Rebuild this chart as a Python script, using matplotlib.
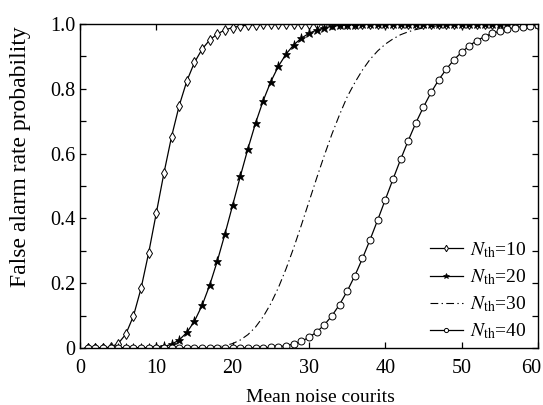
import matplotlib
matplotlib.use('Agg')
import matplotlib.pyplot as plt
from matplotlib.ticker import MultipleLocator, FuncFormatter
from matplotlib.transforms import ScaledTranslation
import numpy as np

plt.rcParams['font.family'] = ['Liberation Serif', 'DejaVu Serif']
plt.rcParams['mathtext.fontset'] = 'stix'

# mean noise counts (x positions of the markers)
mean_counts = np.arange(1, 61)

# false alarm probability for each threshold
p_nth10 = [0.0, 0.0, 0.0003, 0.0028, 0.0137, 0.0426, 0.0985, 0.1841, 0.2940, 0.4170,
           0.5401, 0.6528, 0.7483, 0.8243, 0.8815, 0.9226, 0.9509, 0.9696, 0.9817, 0.9892,
           0.9937, 0.9965, 0.998, 0.999, 0.9994] + [1.0] * 35
p_nth20 = [0.0] * 7 + [0.0001, 0.0004, 0.0016,
           0.0047, 0.0116, 0.0250, 0.0479, 0.0830, 0.1318, 0.1945, 0.2693, 0.3528, 0.4409,
           0.5297, 0.6151, 0.6940, 0.7634, 0.8222, 0.8699, 0.9073, 0.9356, 0.9563, 0.9712,
           0.9814, 0.9883, 0.9928, 0.9956, 0.9974, 0.9985, 0.9991, 0.9995] + [1.0] * 22
p_nth30 = [0.0] * 14 + [0.0003, 0.0008, 0.0018, 0.0038, 0.0075, 0.0137,
           0.0247, 0.0413, 0.0648, 0.0966, 0.1372, 0.1868, 0.2447, 0.3096, 0.3793, 0.4516,
           0.524, 0.594, 0.660, 0.720, 0.775, 0.819, 0.858, 0.891, 0.917, 0.938,
           0.954, 0.967, 0.976, 0.983, 0.988, 0.992, 0.995, 0.9965, 0.998, 0.9985,
           0.999] + [1.0] * 9
p_nth40 = [0.0] * 21 + [0.0001, 0.0003, 0.0008, 0.0019, 0.0039, 0.0072, 0.0126, 0.0208, 0.0328,
           0.0493, 0.0713, 0.0994, 0.134, 0.1753, 0.2229, 0.2763, 0.3342, 0.3953, 0.4581,
           0.5208, 0.582, 0.640, 0.695, 0.744, 0.789, 0.828, 0.861, 0.890, 0.913,
           0.933, 0.949, 0.961, 0.971, 0.978, 0.984, 0.989, 0.992, 0.994, 0.996]

labels = [r'$N_{\mathrm{th}}$=10', r'$N_{\mathrm{th}}$=20',
          r'$N_{\mathrm{th}}$=30', r'$N_{\mathrm{th}}$=40']

fig = plt.figure(figsize=(5.43, 4.05), dpi=100)
ax = fig.add_axes([0.1473, 0.1407, 0.8435, 0.80])

ax.plot(mean_counts, p_nth10, color='black', linewidth=0.9, marker='d',
        markersize=5.5, markerfacecolor='white', markeredgewidth=0.7, label=labels[0])
ax.plot(mean_counts, p_nth20, color='black', linewidth=0.9, marker='*',
        markersize=6.5, markeredgewidth=0.5, label=labels[1])
ax.plot(mean_counts, p_nth30, color='black', linewidth=0.8, dashes=(7, 3, 1.2, 3),
        label=labels[2])
ax.plot(mean_counts, p_nth40, color='black', linewidth=0.9, marker='o',
        markersize=5, markerfacecolor='white', markeredgewidth=0.7, label=labels[3])

ax.set_xlim(0, 60)
ax.set_ylim(0, 1)
ax.set_xticks([0, 10, 20, 30, 40, 50, 60])
ax.yaxis.set_major_locator(MultipleLocator(0.2))
ax.yaxis.set_minor_locator(MultipleLocator(0.1))
ax.yaxis.set_major_formatter(FuncFormatter(lambda v, pos: '0' if abs(v) < 1e-9 else f'{v:.1f}'))
ax.tick_params(which='both', direction='in', top=True, right=True, length=4,
               width=0.9, labelsize=14.5)
ax.tick_params(axis='x', pad=8)
for sp in ax.spines.values():
    sp.set_linewidth(1.0)

ax.set_xlabel('Mean noise courits', fontsize=14)
ax.xaxis.set_label_coords(0.526, -0.125)
ax.set_ylabel('False alarm rate probability', fontsize=17)
ax.yaxis.set_label_coords(-0.108, 0.59)

ax.legend(loc='lower right', frameon=False, fontsize=14, handlelength=1.7,
          handletextpad=0.35, labelspacing=0.38, markerscale=0.6,
          borderaxespad=0.2, bbox_to_anchor=(1.0, -0.015))

# the last x tick label sits a little left of its tick in the original
fig.canvas.draw()
for lbl in ax.get_xticklabels():
    if lbl.get_text() == '60':
        lbl.set_transform(lbl.get_transform() + ScaledTranslation(-0.07, 0, fig.dpi_scale_trans))

fig.savefig('out.png', dpi=100)
